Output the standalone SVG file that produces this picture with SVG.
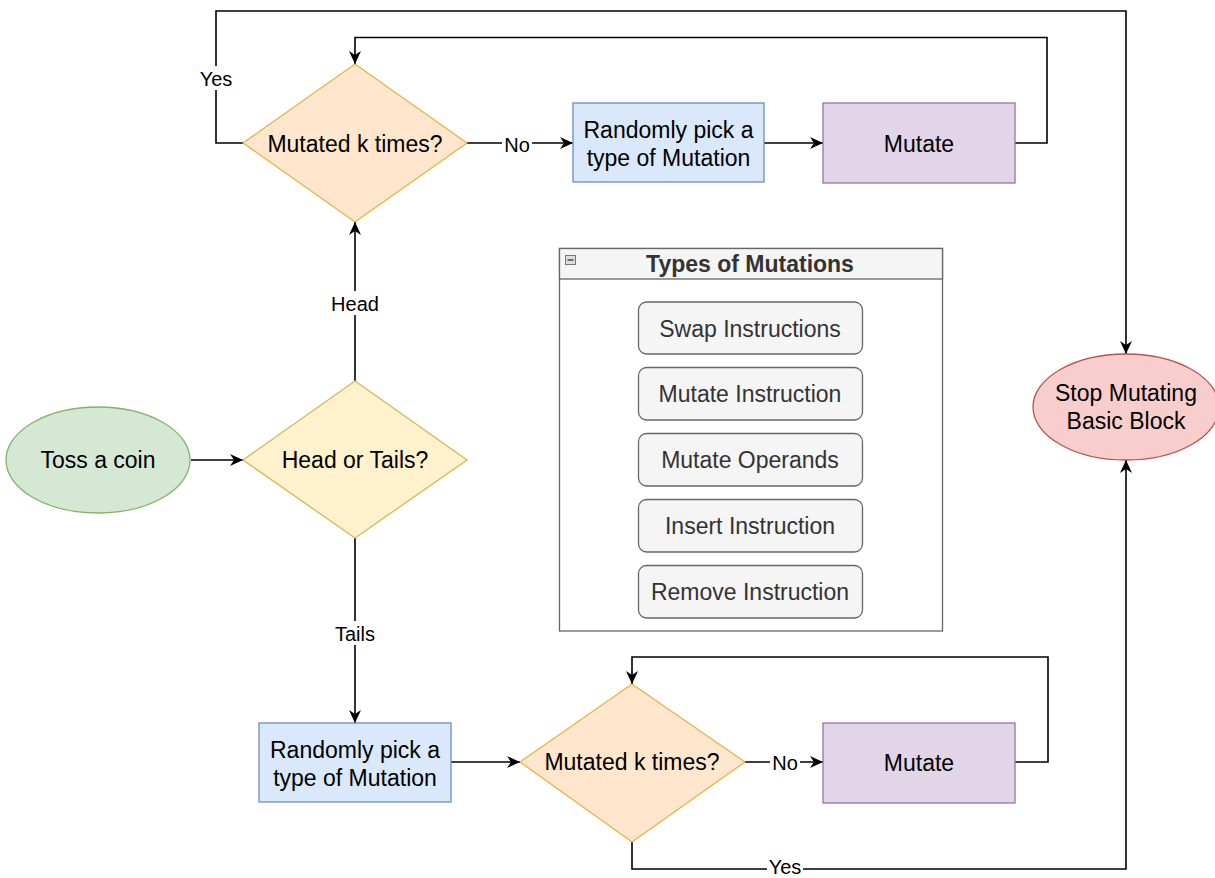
<svg xmlns="http://www.w3.org/2000/svg" width="1215" height="878" viewBox="0 0 1215 878">
<defs>
<marker id="arr" markerUnits="userSpaceOnUse" markerWidth="14" markerHeight="12" viewBox="0 0 14 12" refX="13" refY="6" orient="auto">
<path d="M0,0 L13,6 L0,12 L4,6 Z" fill="#000"/>
</marker>
<style>
.t{font-family:"Liberation Sans",Arial,sans-serif;font-size:23px;fill:#000;text-anchor:middle}
.l{font-family:"Liberation Sans",Arial,sans-serif;font-size:20px;fill:#000;text-anchor:middle}
.g{font-family:"Liberation Sans",Arial,sans-serif;font-size:23px;fill:#333;text-anchor:middle}
.c{fill:none;stroke:#000;stroke-width:1.6}
.lb{fill:#fff}
.btn{fill:#f5f5f5;stroke:#666;stroke-width:1.3}
</style>
</defs>
<rect width="1215" height="878" fill="#fff"/>

<g id="connectors">
<path class="c" d="M191,460 L243,460" marker-end="url(#arr)"/>
<path class="c" d="M355,381 L355,222" marker-end="url(#arr)"/>
<path class="c" d="M355,538 L355,723" marker-end="url(#arr)"/>
<path class="c" d="M467,143 L573,143" marker-end="url(#arr)"/>
<path class="c" d="M764,143 L823,143" marker-end="url(#arr)"/>
<path class="c" d="M1015,143 L1047,143 L1047,37.5 L355,37.5 L355,64" marker-end="url(#arr)"/>
<path class="c" d="M243,143 L216,143 L216,11 L1126,11 L1126,354" marker-end="url(#arr)"/>
<path class="c" d="M451,762 L520,762" marker-end="url(#arr)"/>
<path class="c" d="M745,762 L823,762" marker-end="url(#arr)"/>
<path class="c" d="M1015,762 L1048,762 L1048,657 L632,657 L632,684" marker-end="url(#arr)"/>
<path class="c" d="M632,842 L632,869 L1126,869 L1126,460" marker-end="url(#arr)"/>
<rect class="lb" x="328" y="291" width="54" height="24"/>
<text class="l" x="355" y="311">Head</text>
<rect class="lb" x="331" y="621" width="48" height="24"/>
<text class="l" x="355" y="641">Tails</text>
<rect class="lb" x="502" y="132" width="30" height="24"/>
<text class="l" x="517" y="152">No</text>
<rect class="lb" x="770" y="751" width="30" height="24"/>
<text class="l" x="785" y="770">No</text>
<rect class="lb" x="198" y="66" width="36" height="24"/>
<text class="l" x="216" y="86">Yes</text>
<rect class="lb" x="767" y="858" width="36" height="20"/>
<text class="l" x="785" y="874">Yes</text>
</g>

<g id="toss">
<ellipse cx="98" cy="460" rx="92" ry="53" fill="#d5e8d4" stroke="#82b366" stroke-width="1.3"/>
<text class="t" x="98" y="468">Toss a coin</text>
</g>

<g id="headtails">
<polygon points="355,381 467,460 355,538 243,460" fill="#fff2cc" stroke="#d6b656" stroke-width="1.3"/>
<text class="t" x="355" y="468">Head or Tails?</text>
</g>

<g id="mutated-top">
<polygon points="355,64 467,143 355,222 243,143" fill="#ffe6cc" stroke="#d79b00" stroke-width="1.3" stroke-opacity="0.7"/>
<text class="t" x="355" y="151.5">Mutated k times?</text>
</g>

<g id="pick-top">
<rect x="573" y="103" width="191" height="79" fill="#dae8fc" stroke="#6c8ebf" stroke-width="1.3"/>
<text class="t" x="668.5" y="138">Randomly pick a</text>
<text class="t" x="668.5" y="166">type of Mutation</text>
</g>

<g id="mutate-top">
<rect x="823" y="103" width="192" height="80" fill="#e1d5e7" stroke="#9673a6" stroke-width="1.3"/>
<text class="t" x="919" y="151.5">Mutate</text>
</g>

<g id="stop">
<ellipse cx="1126" cy="407" rx="93" ry="53" fill="#f8cecc" stroke="#b85450" stroke-width="1.3"/>
<text class="t" x="1126" y="401">Stop Mutating</text>
<text class="t" x="1126" y="429">Basic Block</text>
</g>

<g id="pick-bottom">
<rect x="259" y="723" width="192" height="79" fill="#dae8fc" stroke="#6c8ebf" stroke-width="1.3"/>
<text class="t" x="355" y="758">Randomly pick a</text>
<text class="t" x="355" y="786">type of Mutation</text>
</g>

<g id="mutated-bottom">
<polygon points="632,684 745,762 632,842 520,762" fill="#ffe6cc" stroke="#d79b00" stroke-width="1.3" stroke-opacity="0.7"/>
<text class="t" x="632" y="770">Mutated k times?</text>
</g>

<g id="mutate-bottom">
<rect x="823" y="723" width="192" height="80" fill="#e1d5e7" stroke="#9673a6" stroke-width="1.3"/>
<text class="t" x="919" y="770.5">Mutate</text>
</g>

<g id="types">
<rect x="559.5" y="248.5" width="383" height="382.5" fill="#fff" stroke="#666" stroke-width="1.3"/>
<rect x="559.5" y="248.5" width="383" height="30.5" fill="#f5f5f5" stroke="#666" stroke-width="1.3"/>
<rect x="565.5" y="255.5" width="10" height="9" fill="#ddd" stroke="#777" stroke-width="1"/>
<line x1="567.5" y1="260" x2="573.5" y2="260" stroke="#333" stroke-width="1.3"/>
<text class="g" x="750" y="272" font-weight="bold">Types of Mutations</text>
<rect class="btn" x="638.5" y="302" width="224" height="52" rx="8"/>
<text class="g" x="750" y="336.5">Swap Instructions</text>
<rect class="btn" x="638.5" y="367.5" width="224" height="52.5" rx="8"/>
<text class="g" x="750" y="402">Mutate Instruction</text>
<rect class="btn" x="638.5" y="433.5" width="224" height="52.5" rx="8"/>
<text class="g" x="750" y="468">Mutate Operands</text>
<rect class="btn" x="638.5" y="499.5" width="224" height="52.5" rx="8"/>
<text class="g" x="750" y="534">Insert Instruction</text>
<rect class="btn" x="638.5" y="565.5" width="224" height="52.5" rx="8"/>
<text class="g" x="750" y="600">Remove Instruction</text>
</g>
</svg>
